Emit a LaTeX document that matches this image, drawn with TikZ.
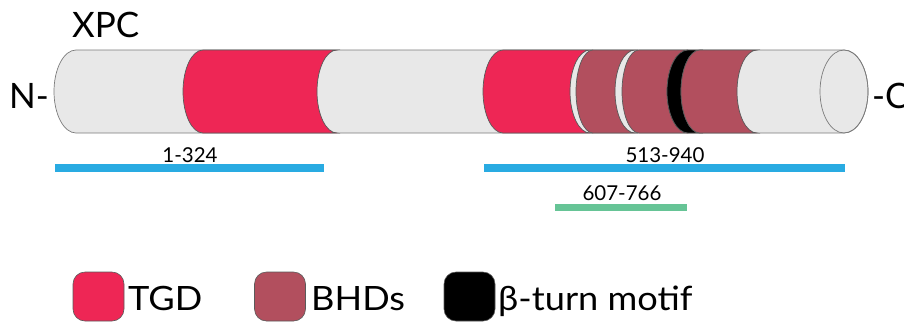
\documentclass[tikz,border=0pt]{standalone}
\usepackage{fontspec}
\setmainfont{Lato}
\newfontfamily\legfont[FakeStretch=1.08]{Lato}
\definecolor{tgd}{HTML}{EE2655}
\definecolor{bhd}{HTML}{B24F5E}
\definecolor{bodyfill}{HTML}{E8E8E8}
\definecolor{edge}{HTML}{5A5A5A}
\definecolor{bluebar}{HTML}{29ABE2}
\definecolor{greenbar}{HTML}{66C496}
\newcommand\segm[5]{%
  \path[seg,fill=#1] (#2+#3,-50) arc[start angle=90,end angle=270,x radius=#3,y radius=41.5]
    -- (#4+#5,-133) arc[start angle=270,end angle=90,x radius=#5,y radius=41.5] -- cycle;}
\begin{document}
\begin{tikzpicture}[x=1pt,y=1pt,
  seg/.style={draw=edge,line width=0.7pt},
  bigtxt/.style={inner sep=0pt,anchor=base west,font=\fontsize{35}{40}\selectfont},
  numtxt/.style={inner sep=0pt,anchor=base,font=\fontsize{20.5}{24}\selectfont},
  legtxt/.style={inner sep=0pt,anchor=base west,font=\legfont\fontsize{33.5}{38}\selectfont},
  legbox/.style={draw=edge,line width=0.6pt,rounded corners=12pt,minimum width=51pt,minimum height=49pt,inner sep=0pt},
  bar/.style={line width=#1}]
\useasboundingbox (0,0) rectangle (904,-322);
% body
\path[seg,draw=edge!80,fill=bodyfill] (76,-50) -- (844,-50)
  arc[start angle=90,end angle=-90,x radius=24,y radius=41.5]
  -- (76,-133) arc[start angle=270,end angle=90,x radius=22,y radius=41.5] -- cycle;
% domains
\segm{tgd}{183}{20}{317}{20}
\segm{tgd}{483}{20}{570}{20}
\segm{bhd}{576}{17}{615}{20}
\segm{bhd}{622}{17}{667}{21}
\segm{black}{667}{21}{681}{19}
\segm{bhd}{681}{19}{737}{20}
\draw[edge!80,line width=0.7pt] (844,-91.5) ellipse[x radius=24,y radius=41.5];
% texts
\node[bigtxt] (xpc) at (72,-37) {XPC};
\node[bigtxt] (nterm) at (9,-108) {N-};
\node[bigtxt] (cterm) at (872,-108) {-C};
% bars
\coordinate (b1a) at (55,-168); \coordinate (b1b) at (324,-168);
\coordinate (b2a) at (484,-168); \coordinate (b2b) at (845,-168);
\coordinate (b3a) at (555,-207.5); \coordinate (b3b) at (687,-207.5);
\draw[bluebar,bar=8pt] (b1a) -- (b1b);
\draw[bluebar,bar=8pt] (b2a) -- (b2b);
\draw[greenbar,bar=7pt] (b3a) -- (b3b);
\node[numtxt] (l1) at (190,-162) {1-324};
\node[numtxt] (l2) at (665,-162) {513-940};
\node[numtxt] (l3) at (622,-200) {607-766};
% legend
\node[legbox,fill=tgd] (ktgd) at (98.5,-296.5) {};
\node[legtxt] (ttgd) at (128,-310) {TGD};
\node[legbox,fill=bhd] (kbhd) at (280,-296.5) {};
\node[legtxt] (tbhd) at (311,-310) {BHDs};
\node[legbox,fill=black] (kbt) at (469.5,-296.5) {};
\node[legtxt] (tbt) at (498,-310) {β-turn motif};
\end{tikzpicture}
\end{document}
